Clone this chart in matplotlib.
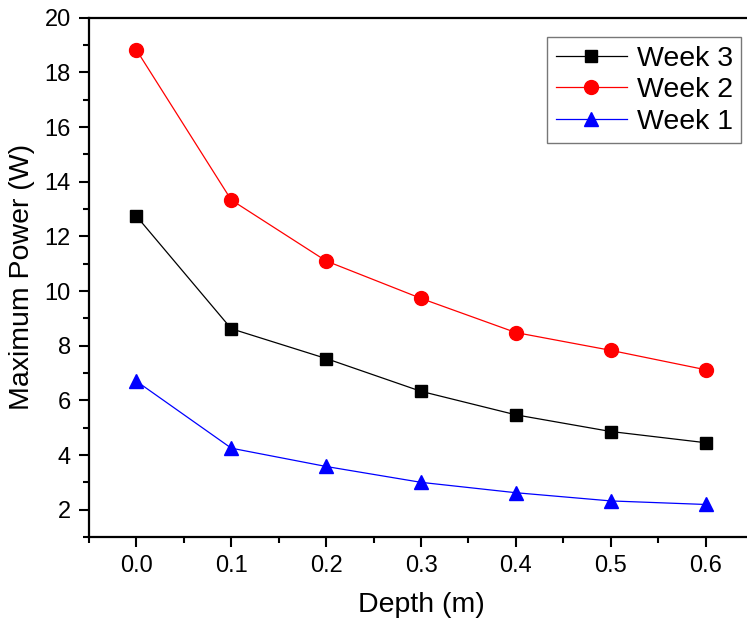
import matplotlib
matplotlib.use("Agg")
import matplotlib.pyplot as plt
from matplotlib.ticker import MultipleLocator

plt.rcParams['font.family'] = ['Liberation Sans', 'DejaVu Sans']

depth = [0.0, 0.1, 0.2, 0.3, 0.4, 0.5, 0.6]
week3 = [12.74, 8.62, 7.53, 6.33, 5.47, 4.86, 4.45]
week2 = [18.82, 13.33, 11.10, 9.73, 8.48, 7.83, 7.12]
week1 = [6.70, 4.25, 3.58, 3.00, 2.62, 2.32, 2.19]

fig = plt.figure(figsize=(7.47, 6.19), dpi=100)
ax = fig.add_axes([89/747, 82/619, 664/747, 519.3/619])

ax.plot(depth, week3, color='black', lw=0.9, marker='s', ms=8.5, label='Week 3')
ax.plot(depth, week2, color='red', lw=0.9, marker='o', ms=10, label='Week 2')
ax.plot(depth, week1, color='blue', lw=0.9, marker='^', ms=10.5, label='Week 1')

ax.set_xlim(-0.05, 0.65)
ax.set_ylim(1, 20)
ax.xaxis.set_major_locator(MultipleLocator(0.1))
ax.xaxis.set_minor_locator(MultipleLocator(0.05))
ax.yaxis.set_minor_locator(MultipleLocator(1))
ax.set_yticks([2, 4, 6, 8, 10, 12, 14, 16, 18, 20])
ax.xaxis.set_major_formatter(matplotlib.ticker.FormatStrFormatter('%.1f'))

for s in ax.spines.values():
    s.set_linewidth(1.6)
ax.tick_params(which='major', direction='out', length=7, width=1.5, labelsize=17, pad=6)
ax.tick_params(which='minor', direction='out', length=4, width=1.5)
ax.tick_params(top=False, right=False)

ax.set_xlabel('Depth (m)', fontsize=20.5, labelpad=11)
ax.set_ylabel('Maximum Power (W)', fontsize=20.5, labelpad=7)

leg = ax.legend(loc='upper left', bbox_to_anchor=((547-89)/664, (537-37)/519.3),
                fontsize=20.5, frameon=True, fancybox=False, edgecolor='#555555',
                handlelength=2.5, borderpad=0.3, labelspacing=0.2, handletextpad=0.35,
                borderaxespad=0)
leg.get_frame().set_linewidth(1.0)

fig.savefig('out.png', dpi=100)
